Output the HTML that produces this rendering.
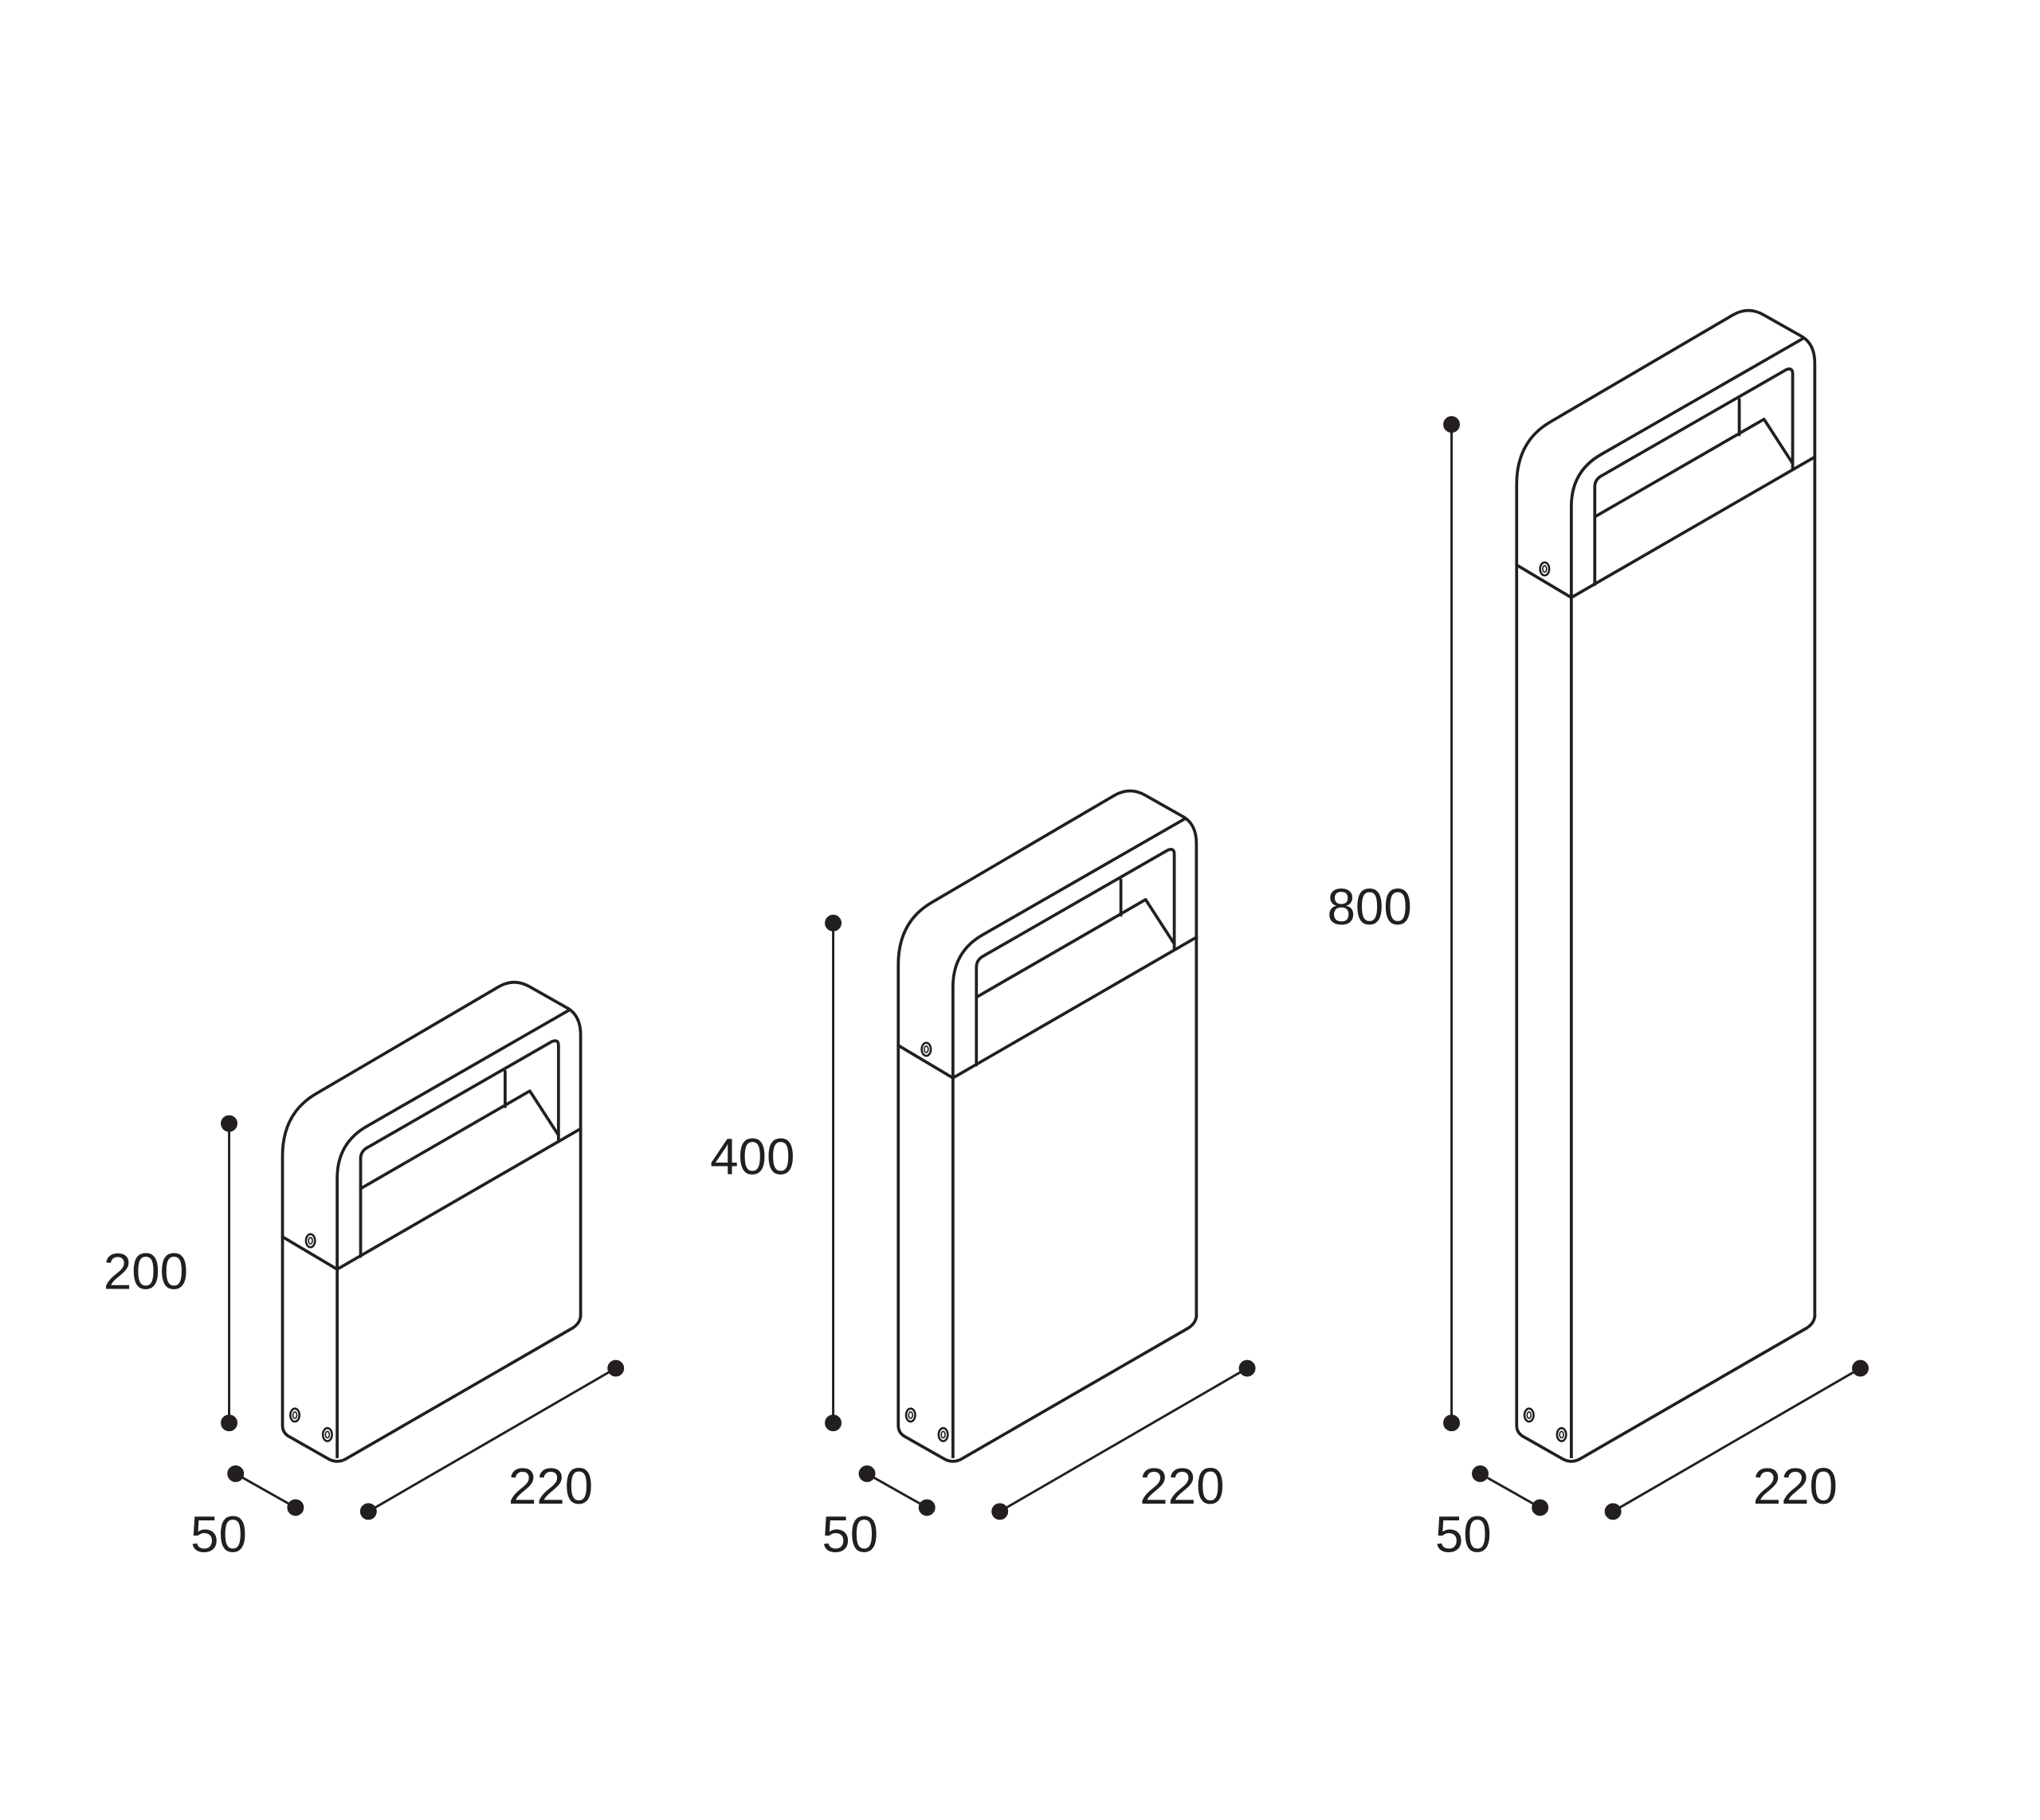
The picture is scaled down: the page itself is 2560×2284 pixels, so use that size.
<!DOCTYPE html>
<html><head><meta charset="utf-8"><style>
html,body{margin:0;padding:0;background:#fff;}
svg{display:block;}
text{font-family:"Liberation Sans",sans-serif;font-size:39px;fill:#231f20;}
</style></head><body>
<svg width="2560" height="2284" viewBox="0 0 1567 1398" preserveAspectRatio="none" xmlns="http://www.w3.org/2000/svg">
<defs>
<g id="top" fill="none" stroke="#231f20" stroke-width="2.3" stroke-linejoin="round" stroke-linecap="round">
<path d="M217,950 L217,888 Q217,855 243,840 L383,758 Q395,751 407,758 L437,775 Q446,781 446,795 L446,867"/>
<path d="M217,950 L259,975 L446,867"/>
<path d="M259,975 L259,905 Q259,878 282,865 L437,776"/>
<path d="M277,965 L277,890 Q277,884 283,881 L424,800 Q429,798 429,803 L429,876"/>
<path d="M277,913 L407,838 L429,872"/>
<path d="M388,823 L388,850"/>
<ellipse cx="238.5" cy="953" rx="3.5" ry="5" stroke-width="1.6"/>
<ellipse cx="238.5" cy="953" rx="1.5" ry="2.5" stroke-width="1"/>
</g>
<g id="bot" fill="none" stroke="#231f20" stroke-width="2.3" stroke-linejoin="round">
<path d="M217,1095 Q217,1101 223,1104 L253,1121 Q259,1124 265,1121 L440,1020 Q446,1016 446,1010"/>
<ellipse cx="226.5" cy="1087" rx="3.5" ry="5" stroke-width="1.6"/>
<ellipse cx="226.5" cy="1087" rx="1.5" ry="2.5" stroke-width="1"/>
<ellipse cx="251.5" cy="1102" rx="3.5" ry="5" stroke-width="1.6"/>
<ellipse cx="251.5" cy="1102" rx="1.5" ry="2.5" stroke-width="1"/>
</g>
</defs>
<g fill="none" stroke="#231f20" stroke-width="2.3">
<path d="M217,950 V1095 M259,975 V1120 M446,867 V1012"/>
<path d="M690,803 V1095 M732,828 V1120 M919,720 V1012"/>
<path d="M1165,434 V1095 M1207,459 V1120 M1394,351 V1012"/>
</g>
<use href="#top"/><use href="#bot"/>
<use href="#top" transform="translate(473,-147)"/><use href="#bot" transform="translate(473,0)"/>
<use href="#top" transform="translate(948,-516)"/><use href="#bot" transform="translate(948,0)"/>

<g stroke="#231f20" stroke-width="1.8" fill="#231f20">
<line x1="176" y1="863" x2="176" y2="1093"/><circle cx="176" cy="863" r="5.5"/><circle cx="176" cy="1093" r="5.5"/>
<line x1="181" y1="1132" x2="227" y2="1158"/><circle cx="181" cy="1132" r="5.5"/><circle cx="227" cy="1158" r="5.5"/>
<line x1="283" y1="1161" x2="473" y2="1051"/><circle cx="283" cy="1161" r="5.5"/><circle cx="473" cy="1051" r="5.5"/>

<line x1="640" y1="709" x2="640" y2="1093"/><circle cx="640" cy="709" r="5.5"/><circle cx="640" cy="1093" r="5.5"/>
<line x1="666" y1="1132" x2="712" y2="1158"/><circle cx="666" cy="1132" r="5.5"/><circle cx="712" cy="1158" r="5.5"/>
<line x1="768" y1="1161" x2="958" y2="1051"/><circle cx="768" cy="1161" r="5.5"/><circle cx="958" cy="1051" r="5.5"/>

<line x1="1115" y1="326" x2="1115" y2="1093"/><circle cx="1115" cy="326" r="5.5"/><circle cx="1115" cy="1093" r="5.5"/>
<line x1="1137" y1="1132" x2="1183" y2="1158"/><circle cx="1137" cy="1132" r="5.5"/><circle cx="1183" cy="1158" r="5.5"/>
<line x1="1239" y1="1161" x2="1429" y2="1051"/><circle cx="1239" cy="1161" r="5.5"/><circle cx="1429" cy="1051" r="5.5"/>
</g>
<g text-anchor="middle">
<text x="112" y="990">200</text>
<text x="168" y="1192">50</text>
<text x="423" y="1155">220</text>
<text x="578" y="902">400</text>
<text x="653" y="1192">50</text>
<text x="908" y="1155">220</text>
<text x="1052" y="710">800</text>
<text x="1124" y="1192">50</text>
<text x="1379" y="1155">220</text>
</g>
</svg>
</body></html>
